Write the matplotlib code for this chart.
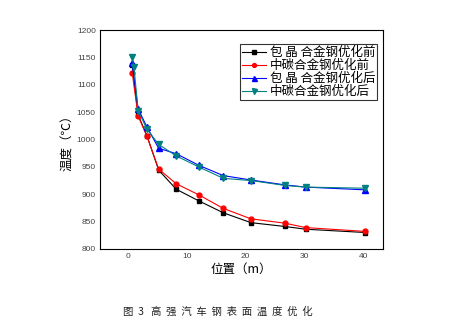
import matplotlib
matplotlib.use('Agg')
import matplotlib.pyplot as plt

plt.rcParams['font.family'] = ['Noto Sans CJK SC', 'DejaVu Sans']

# 测点位置 (m)
x_pos = [0.7, 1.7, 3.2, 5.2, 8.2, 12.0, 16.2, 20.9, 26.7, 30.2, 40.3]
x_pos_teal = [0.7, 1.0, 1.7, 3.2, 5.2, 8.2, 12.0, 16.2, 20.9, 26.7, 30.2, 40.3]

# 各工况表面温度 (℃)
t_baojing_before = [1137, 1045, 1007, 944, 909, 888, 866, 848, 841, 836, 830]
t_zhongtan_before = [1122, 1043, 1006, 946, 919, 899, 874, 855, 847, 839, 832]
t_baojing_after = [1139, 1056, 1023, 984, 974, 953, 934, 926, 917, 913, 908]
t_zhongtan_after = [1150, 1132, 1053, 1019, 991, 970, 950, 929, 925, 916, 913, 911]

labels = ['包 晶 合金钢优化前', '中碳合金钢优化前', '包 晶 合金钢优化后', '中碳合金钢优化后']

fig = plt.figure(figsize=(4.69, 3.31), dpi=100)
ax = fig.add_axes([0.213, 0.248, 0.604, 0.661])

ax.plot(x_pos, t_baojing_before, color='black', marker='s', ms=3.5, lw=0.8, label=labels[0])
ax.plot(x_pos, t_zhongtan_before, color='red', marker='o', ms=3.5, lw=0.8, label=labels[1])
ax.plot(x_pos, t_baojing_after, color='blue', marker='^', ms=4.5, lw=0.8, label=labels[2])
ax.plot(x_pos_teal, t_zhongtan_after, color='#008080', marker='v', ms=4.5, lw=0.8, label=labels[3])

ax.set_xlim(-4.8, 43.4)
ax.set_ylim(800, 1200)
ax.set_xticks([0, 10, 20, 30, 40])
ax.set_yticks(range(800, 1201, 50))
ax.tick_params(length=0, labelsize=6, colors='#444444', pad=3)
for lab in ax.get_xticklabels() + ax.get_yticklabels():
    lab.set_family(['Liberation Sans', 'DejaVu Sans'])

ax.set_xlabel('位置（m）', fontsize=9, labelpad=2)
ax.set_ylabel('温度（℃）', fontsize=9, labelpad=2)

leg = ax.legend(loc='upper right', bbox_to_anchor=(0.979, 0.936), fontsize=9, frameon=True,
                fancybox=False, edgecolor='black', handlelength=1.9, handletextpad=0.3,
                borderpad=0.15, labelspacing=0.0, borderaxespad=0, markerscale=0.8)
leg.get_frame().set_linewidth(0.8)

fig.text(0.465, 0.058, '图  3   高  强  汽  车  钢  表  面  温  度  优  化', fontsize=7.5,
         ha='center', va='center', color='#222222')

fig.savefig('out.png', dpi=100)
